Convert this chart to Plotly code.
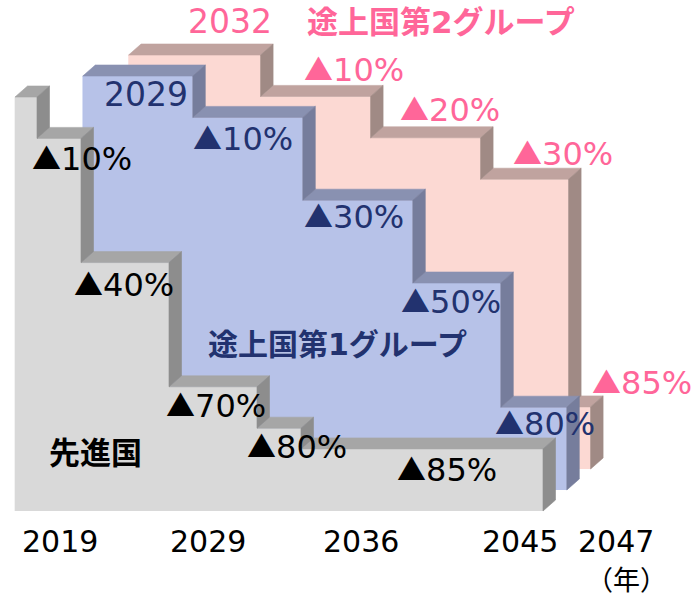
import plotly.graph_objects as go

W, H = 695, 597

# ---------------- data ----------------
STEP_END = 24  # end of the schedule on the category index axis
dev_start = [0, 1, 3, 7, 11, 13]          # 先進国
dev_level = [100, 90, 60, 30, 20, 15]
g1_start = [2, 7, 12, 17, 21]             # 途上国第1グループ
g1_level = [100, 90, 70, 50, 20]
g2_start = [3, 9, 14, 19, 23]             # 途上国第2グループ
g2_level = [100, 90, 80, 70, 15]
series_names = ["先進国", "途上国第1グループ", "途上国第2グループ"]
series_first_year = ["", "2029", "2032"]
tick_labels = ["2019", "2029", "2036", "2045", "2047"]
unit_label = "（年）"

# ---------------- scale / style ----------------
X0_PX, PX_PER_K = 15.0, 22.0
BASE_PX, PX_PER_PCT = 511.0, 4.14
SER_DX = 23.8 / PX_PER_K
SER_DY = 21.0 / PX_PER_PCT
DEP_DX = 12.5 / PX_PER_K
DEP_DY = 11.0 / PX_PER_PCT

FONT = "DejaVu Sans, Noto Sans CJK JP, sans-serif"
styles = [
    dict(front="#d9d9d9", top="#a6a6a6", side="#8d8d8d", text="#000000"),
    dict(front="#b7c2e8", top="#8991b1", side="#767d9c", text="#22326f"),
    dict(front="#fcd9d3", top="#c0a39f", side="#a08a85", text="#ff6699"),
]


def faces(starts, levels, s):
    ox, oy = s * SER_DX, s * SER_DY
    ends = starts[1:] + [STEP_END]
    n = len(levels)
    fx = [starts[0], starts[0]]
    fy = [0, levels[0]]
    for i in range(n):
        fx.append(ends[i]); fy.append(levels[i])
        nxt = levels[i + 1] if i + 1 < n else 0
        fx.append(ends[i]); fy.append(nxt)
    tx, ty, sx, sy = [], [], [], []
    for i in range(n):
        L = levels[i]
        tx += [starts[i], ends[i], ends[i] + DEP_DX, starts[i] + DEP_DX, starts[i], None]
        ty += [L, L, L + DEP_DY, L + DEP_DY, L, None]
        lo = levels[i + 1] if i + 1 < n else 0
        sx += [ends[i], ends[i], ends[i] + DEP_DX, ends[i] + DEP_DX, ends[i], None]
        sy += [lo, L, L + DEP_DY, lo + DEP_DY, lo, None]
    sh = lambda xs, d: [None if v is None else v + d for v in xs]
    return (sh(fx, ox), sh(fy, oy)), (sh(tx, ox), sh(ty, oy)), (sh(sx, ox), sh(sy, oy))


fig = go.Figure()
all_series = [(dev_start, dev_level), (g1_start, g1_level), (g2_start, g2_level)]
for s in [2, 1, 0]:
    st, lv = all_series[s]
    front, top, side = faces(st, lv, s)
    for (xs, ys), col in [(front, styles[s]["front"]), (top, styles[s]["top"]), (side, styles[s]["side"])]:
        fig.add_trace(go.Scatter(x=xs, y=ys, mode="lines", fill="toself", fillcolor=col,
                                 line=dict(color=col, width=0.6), hoverinfo="skip",
                                 showlegend=False))

# ---------------- text ----------------
def ann(text, px, py, size, color, bold=False):
    fig.add_annotation(text=f"<b>{text}</b>" if bold else text, x=px / W, y=1 - py / H,
                       xref="paper", yref="paper", showarrow=False,
                       xanchor="center", yanchor="middle",
                       font=dict(family=FONT, size=size, color=color))

TRI = "<span style=\"font-family:'Noto Sans CJK JP';font-size:29px\">▲</span>"
pct = lambda v: f"{TRI}{100 - v}%"

# label anchor positions (pixels) for steps after the first
dev_lab_pos = [(82, 157), (124, 283), (216, 404), (297, 445), (447, 468)]
g1_lab_pos = [(243, 137), (354, 215), (451, 300), (545, 422)]
g2_lab_pos = [(354, 68), (450, 108), (563, 152), (642, 381)]

for lv, pos in zip(dev_level[1:], dev_lab_pos):
    ann(pct(lv), *pos, 32, styles[0]["text"])
for lv, pos in zip(g1_level[1:], g1_lab_pos):
    ann(pct(lv), *pos, 32, styles[1]["text"])
for lv, pos in zip(g2_level[1:], g2_lab_pos):
    ann(pct(lv), *pos, 32, styles[2]["text"])

ann(series_names[0], 95, 453, 31, styles[0]["text"], bold=True)
ann(series_names[1], 337, 344, 30, styles[1]["text"], bold=True)
ann(series_names[2], 441, 22, 31, styles[2]["text"], bold=True)
ann(series_first_year[1], 146, 95, 33, styles[1]["text"])
ann(series_first_year[2], 230, 22, 33, styles[2]["text"])

tick_pos = [60, 208, 361, 520, 616]
for t, px in zip(tick_labels, tick_pos):
    ann(t, px, 541, 30, "#000000")
ann(unit_label, 626, 580, 27, "#000000")

fig.update_layout(
    width=W, height=H, autosize=False,
    margin=dict(l=0, r=0, t=0, b=0),
    paper_bgcolor="white", plot_bgcolor="white",
    xaxis=dict(range=[-X0_PX / PX_PER_K, (W - X0_PX) / PX_PER_K], visible=False, fixedrange=True),
    yaxis=dict(range=[(BASE_PX - H) / PX_PER_PCT, BASE_PX / PX_PER_PCT], visible=False, fixedrange=True),
    showlegend=False,
)
fig.write_html("out.html", config={"displayModeBar": False})

# remove the browser's default page margin so the figure fills the window exactly
with open("out.html", encoding="utf-8") as f:
    html = f.read()
html = html.replace("<head>", "<head><style>html,body{margin:0;padding:0;overflow:hidden;}</style>", 1)
with open("out.html", "w", encoding="utf-8") as f:
    f.write(html)
